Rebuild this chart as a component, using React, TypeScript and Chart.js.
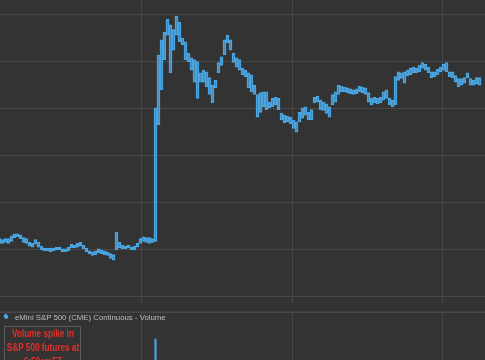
import React, { useEffect, useRef } from "react";
import { Chart, registerables } from "chart.js";

Chart.register(...registerables);

// Minute index of the first bar shown (one bar per minute)
const firstMinute = 2.5;

// Bar highs (price)
const highs = [
  2106.2, 2106.1, 2106.2, 2106.2, 2106.5, 2106.7, 2106.7, 2106.6, 2106.3, 2106.2,
  2105.8, 2105.7, 2106.1, 2105.8, 2105.4, 2105.2, 2105.2, 2105.2, 2105.2, 2105.3,
  2105.3, 2105.1, 2105.1, 2105.3, 2105.6, 2105.5, 2105.7, 2105.8, 2105.5, 2105.2,
  2104.9, 2104.8, 2104.9, 2105.1, 2105.0, 2104.9, 2104.8, 2104.6, 2104.5, 2106.9,
  2105.8, 2105.5, 2105.4, 2105.5, 2105.3, 2105.4, 2105.7, 2106.2, 2106.4, 2106.3,
  2106.3, 2106.2, 2120.1, 2125.7, 2127.3, 2128.1, 2129.5, 2128.9, 2128.4, 2129.8,
  2129.2, 2127.5, 2127.1, 2125.9, 2125.4, 2125.2, 2125.0, 2123.8, 2124.1, 2123.9,
  2123.3, 2122.5, 2123.0, 2124.9, 2125.5, 2127.3, 2127.8, 2127.3, 2125.9, 2125.4,
  2125.2, 2124.3, 2124.1, 2123.8, 2123.6, 2122.5, 2121.5, 2121.7, 2121.8, 2121.8,
  2120.7, 2121.1, 2121.2, 2121.1, 2119.5, 2119.3, 2119.2, 2119.1, 2118.8, 2118.6,
  2119.6, 2120.1, 2120.2, 2119.6, 2119.9, 2121.2, 2121.3, 2120.9, 2120.7, 2120.5,
  2120.2, 2121.5, 2121.8, 2122.5, 2122.4, 2122.3, 2122.2, 2122.1, 2122.0, 2122.1,
  2122.4, 2122.3, 2122.2, 2121.7, 2121.1, 2121.2, 2121.1, 2121.2, 2121.8, 2122.0,
  2121.1, 2120.9, 2123.4, 2123.9, 2123.8, 2123.9, 2124.1, 2124.3, 2124.4, 2124.3,
  2124.6, 2124.9, 2124.7, 2124.4, 2123.9, 2123.9, 2124.2, 2124.4, 2124.7, 2124.9,
  2123.9, 2123.9, 2123.5, 2123.2, 2123.2, 2123.3, 2123.8, 2123.2, 2123.0, 2123.3,
  2123.3,
];

// Bar lows (price)
const lows = [
  2105.7, 2105.7, 2105.8, 2105.7, 2105.9, 2106.3, 2106.4, 2106.2, 2105.8, 2105.7,
  2105.4, 2105.3, 2105.6, 2105.3, 2105.0, 2104.9, 2104.9, 2104.8, 2104.9, 2105.0,
  2105.0, 2104.8, 2104.8, 2104.9, 2105.2, 2105.2, 2105.3, 2105.4, 2105.1, 2104.8,
  2104.6, 2104.4, 2104.5, 2104.7, 2104.6, 2104.5, 2104.4, 2104.1, 2103.9, 2105.0,
  2105.2, 2105.1, 2105.1, 2105.2, 2105.0, 2105.0, 2105.3, 2105.7, 2105.9, 2105.8,
  2105.7, 2105.8, 2105.9, 2118.3, 2122.0, 2125.2, 2127.8, 2123.8, 2126.2, 2127.8,
  2127.1, 2126.8, 2125.2, 2125.0, 2124.1, 2122.8, 2121.1, 2122.8, 2122.8, 2122.3,
  2121.5, 2120.6, 2122.2, 2123.8, 2124.6, 2125.7, 2127.0, 2126.2, 2124.9, 2124.4,
  2124.1, 2123.6, 2123.4, 2122.2, 2121.8, 2121.5, 2119.1, 2119.6, 2120.2, 2119.9,
  2120.1, 2120.2, 2120.4, 2119.9, 2118.8, 2118.5, 2118.6, 2118.4, 2117.9, 2117.5,
  2118.6, 2119.0, 2119.3, 2118.8, 2118.8, 2120.6, 2120.7, 2119.9, 2119.8, 2119.5,
  2119.1, 2120.4, 2120.7, 2121.5, 2121.8, 2121.8, 2121.7, 2121.6, 2121.5, 2121.6,
  2121.8, 2121.7, 2121.5, 2120.7, 2120.4, 2120.6, 2120.5, 2120.6, 2120.9, 2121.1,
  2120.4, 2120.2, 2120.4, 2123.0, 2123.2, 2122.7, 2123.5, 2123.6, 2123.8, 2123.8,
  2123.9, 2124.3, 2124.1, 2123.8, 2123.3, 2123.4, 2123.6, 2123.9, 2124.1, 2123.9,
  2123.4, 2123.3, 2122.8, 2122.3, 2122.5, 2122.7, 2123.3, 2122.5, 2122.5, 2122.6,
  2122.5,
];

// Volume around the spike (bar index -> contracts)
const volumeBars = [50, 51, 52, 53, 54];
const volumeValues = [3000, 5000, 36500, 21000, 15000];

// Axis windows and grid steps
const minuteMin = 2.67;
const minuteMax = 164.33;
const minuteStep = 50;
const priceMin = 2099.36;
const priceMax = 2131.54;
const priceStep = 5;
const volumeMax = 50000;
const volumeStep = 40000;

const BG = "#333333";
const GRID = "#474747";
const BLUE = "#4aa6e2";

const volumeLabel = "eMini S&P 500 (CME) Continuous - Volume";
const noteLines = ["Volume spike in", "S&P 500 futures at", "6:50amET"];

function xScale() {
  return {
    type: "linear" as const,
    min: minuteMin,
    max: minuteMax,
    offset: false,
    border: { display: false },
    grid: { color: GRID, lineWidth: 1, drawTicks: false, offset: false },
    ticks: { display: false, stepSize: minuteStep, includeBounds: false },
  };
}

export default function App() {
  const priceRef = useRef<HTMLCanvasElement>(null);
  const volRef = useRef<HTMLCanvasElement>(null);

  useEffect(() => {
    document.body.style.margin = "0";
    document.body.style.background = BG;
    const priceData = highs.map((h, i) => ({ x: firstMinute + i, y: [lows[i], h] }));
    const volData = volumeBars.map((b, k) => ({ x: firstMinute + b, y: volumeValues[k] }));

    const c1 = new Chart(priceRef.current!, {
      type: "bar",
      data: {
        datasets: [
          {
            data: priceData as any,
            backgroundColor: "rgba(74,166,226,0.25)",
            borderColor: BLUE,
            borderWidth: 1,
            borderSkipped: false,
            barThickness: 3,
          },
        ],
      },
      options: {
        animation: false,
        responsive: false,
        maintainAspectRatio: false,
        layout: { padding: 0 },
        plugins: { legend: { display: false }, tooltip: { enabled: false } },
        scales: {
          x: xScale() as any,
          y: {
            min: priceMin,
            max: priceMax,
            border: { display: false },
            grid: { color: GRID, lineWidth: 1, drawTicks: false },
            ticks: { display: false, stepSize: priceStep, includeBounds: false },
          },
        },
      },
    });

    const c2 = new Chart(volRef.current!, {
      type: "bar",
      data: {
        datasets: [
          {
            data: volData as any,
            backgroundColor: BLUE,
            borderWidth: 0,
            barThickness: 1.5,
          },
        ],
      },
      options: {
        animation: false,
        responsive: false,
        maintainAspectRatio: false,
        layout: { padding: 0 },
        plugins: { legend: { display: false }, tooltip: { enabled: false } },
        scales: {
          x: xScale() as any,
          y: {
            min: 0,
            max: volumeMax,
            border: { display: false },
            grid: { color: GRID, lineWidth: 1, drawTicks: false },
            ticks: { display: false, stepSize: volumeStep, includeBounds: false },
          },
        },
      },
    });

    return () => {
      c1.destroy();
      c2.destroy();
    };
  }, []);

  return (
    <div
      style={{
        position: "relative",
        width: 485,
        height: 360,
        overflow: "hidden",
        background: BG,
        fontFamily: "'Liberation Sans', Arial, sans-serif",
      }}
    >
      <canvas
        ref={priceRef}
        width={485}
        height={303}
        style={{ position: "absolute", left: 0, top: 0, width: 485, height: 303 }}
      />
      <div
        style={{
          position: "absolute",
          left: 0,
          top: 311,
          width: 485,
          height: 1,
          background: "#3e3e3e",
        }}
      />
      <canvas
        ref={volRef}
        width={485}
        height={100}
        style={{ position: "absolute", left: 0, top: 312, width: 485, height: 100 }}
      />
      <div
        style={{
          position: "absolute",
          left: 4,
          top: 314,
          width: 4,
          height: 5,
          background: BLUE,
          borderRadius: "50% 0 50% 50%",
          transform: "rotate(-45deg)",
        }}
      />
      <div
        style={{
          position: "absolute",
          left: 15,
          top: 312,
          fontSize: 7.8,
          lineHeight: "11px",
          color: "#bdbdbd",
          whiteSpace: "nowrap",
        }}
      >
        {volumeLabel}
      </div>
      <div
        style={{
          position: "absolute",
          left: 4,
          top: 326,
          width: 77,
          height: 50,
          border: "1px solid #5a5a5a",
          background: BG,
          boxSizing: "border-box",
        }}
      />
      {noteLines.map((t, k) => (
        <div
          key={t}
          style={{
            position: "absolute",
            left: 42.5,
            top: 327 + k * 14,
            transform: "translateX(-50%) scaleX(0.82)",
            color: "#e3302a",
            fontWeight: "bold",
            fontSize: 10,
            lineHeight: "14px",
            whiteSpace: "nowrap",
          }}
        >
          {t}
        </div>
      ))}
    </div>
  );
}
